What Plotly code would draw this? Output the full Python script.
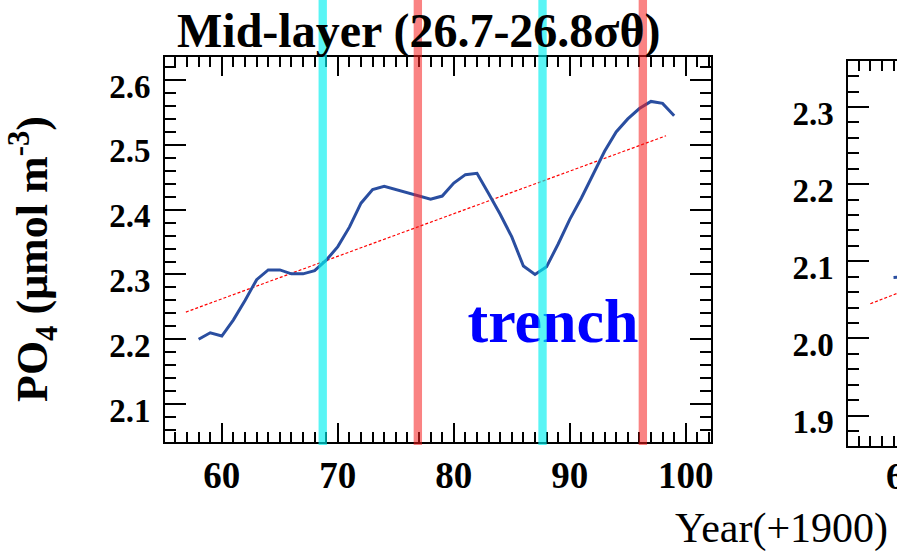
import plotly.graph_objects as go

# ---------------- data ----------------
years = list(range(58, 100))
po4_mid = [2.200, 2.210, 2.205, 2.230, 2.260, 2.292, 2.307, 2.307, 2.301, 2.301,
           2.306, 2.322, 2.343, 2.373, 2.410, 2.431, 2.436, 2.431, 2.426, 2.422,
           2.416, 2.421, 2.441, 2.454, 2.456, 2.425, 2.393, 2.358, 2.313, 2.300,
           2.312, 2.347, 2.385, 2.418, 2.455, 2.490, 2.520, 2.540, 2.556, 2.567,
           2.564, 2.545]
trend_years = [56.9, 98.3]
trend_vals = [2.242, 2.514]

# second (partially visible) panel
p2_years = [59, 60]
p2_vals = [2.079, 2.080]
p2_trend_years = [57.0, 98.0]
p2_trend_vals = [2.045, 2.283]

cyan_events = [68.7, 87.65]
red_events = [76.9, 96.3]
band_half = 0.36

x_ticks = [60, 70, 80, 90, 100]
y_ticks1 = [2.1, 2.2, 2.3, 2.4, 2.5, 2.6]
y_ticks2 = [1.9, 2.0, 2.1, 2.2, 2.3]

W, H = 897, 553
SERIF = "Liberation Serif"
BLUE = "#2a4ea0"


def px_x(p):
    return p / W


def px_y(p):
    return 1 - p / H


fig = go.Figure()

fig.add_trace(go.Scatter(x=trend_years, y=trend_vals, mode="lines",
                         line=dict(color="red", width=1.2, dash="3px,2px"),
                         xaxis="x", yaxis="y", showlegend=False, hoverinfo="skip"))
fig.add_trace(go.Scatter(x=years, y=po4_mid, mode="lines",
                         line=dict(color=BLUE, width=3),
                         xaxis="x", yaxis="y", showlegend=False))
fig.add_trace(go.Scatter(x=[88.56], y=[2.220], mode="text", text=["trench"],
                         textposition="middle center",
                         textfont=dict(family=SERIF, size=62, color="#0000ff", weight="bold"),
                         xaxis="x", yaxis="y", showlegend=False, hoverinfo="skip"))

fig.add_trace(go.Scatter(x=p2_trend_years, y=p2_trend_vals, mode="lines",
                         line=dict(color="red", width=1.2, dash="3px,2px"),
                         xaxis="x2", yaxis="y2", showlegend=False, hoverinfo="skip"))
fig.add_trace(go.Scatter(x=p2_years, y=p2_vals, mode="lines",
                         line=dict(color=BLUE, width=3),
                         xaxis="x2", yaxis="y2", showlegend=False))

shapes = []
for c in cyan_events:
    shapes.append(dict(type="rect", xref="x", yref="paper", x0=c - band_half, x1=c + band_half,
                       y0=px_y(445), y1=1, fillcolor="rgba(0,240,240,0.65)",
                       line=dict(width=0), layer="above"))
for c in red_events:
    shapes.append(dict(type="rect", xref="x", yref="paper", x0=c - band_half, x1=c + band_half,
                       y0=px_y(445), y1=1, fillcolor="rgba(245,30,30,0.55)",
                       line=dict(width=0), layer="above"))

axis_common = dict(showline=True, linewidth=2, linecolor="black", ticks="inside",
                   tickcolor="black", tickwidth=1.5, showgrid=False, zeroline=False,
                   automargin=False)

fig.update_layout(
    width=W, height=H, margin=dict(l=0, r=0, t=0, b=0),
    paper_bgcolor="white", plot_bgcolor="white", showlegend=False,
    shapes=shapes,
    xaxis=dict(**axis_common, domain=[px_x(165), px_x(710.7)], range=[55.1, 102.15],
               anchor="y", mirror="allticks", tickvals=x_ticks, ticklen=19,
               tickfont=dict(family=SERIF, size=37, color="black", weight="bold"),
               minor=dict(dtick=1, tick0=0, ticklen=10, tickwidth=1.5, tickcolor="black",
                          ticks="inside", showgrid=False)),
    yaxis=dict(**axis_common, domain=[px_y(441.7), px_y(56.7)], range=[2.042, 2.636],
               anchor="x", mirror="allticks", tickvals=y_ticks1, tickformat=".1f", ticklen=21,
               ticklabelstandoff=6, ticklabelshift=6,
               tickfont=dict(family=SERIF, size=33, color="black", weight="bold"),
               minor=dict(dtick=0.02, tick0=0, ticklen=11, tickwidth=1.5, tickcolor="black",
                          ticks="inside", showgrid=False)),
    xaxis2=dict(**axis_common, domain=[px_x(848.3), 1], range=[55.1, 59.3],
                anchor="y2", mirror="allticks", tickvals=x_ticks, ticklen=19,
                tickfont=dict(family=SERIF, size=37, color="black", weight="bold"),
                minor=dict(dtick=1, tick0=0, ticklen=10, tickwidth=1.5, tickcolor="black",
                           ticks="inside", showgrid=False)),
    yaxis2=dict(**axis_common, domain=[px_y(445.7), px_y(60.7)], range=[1.861, 2.360],
                anchor="x2", mirror=False, tickvals=y_ticks2, tickformat=".1f", ticklen=21,
                ticklabelstandoff=6, ticklabelshift=6,
                tickfont=dict(family=SERIF, size=33, color="black", weight="bold"),
                minor=dict(dtick=0.02, tick0=0, ticklen=11, tickwidth=1.5, tickcolor="black",
                           ticks="inside", showgrid=False)),
    annotations=[
        dict(text="<b>Mid-layer (26.7-26.8σθ)</b>", xref="paper", yref="paper",
             x=px_x(419), y=px_y(31), xanchor="center", yanchor="middle", showarrow=False,
             font=dict(family=SERIF, size=48, color="black")),
        dict(text="<b>PO<sub>4</sub> (μmol m<sup>-3</sup>)</b>", xref="paper", yref="paper",
             x=px_x(33), y=px_y(259), xanchor="center", yanchor="middle", textangle=-90,
             showarrow=False, font=dict(family=SERIF, size=44, color="black")),
        dict(text="Year(+1900)", xref="paper", yref="paper",
             x=px_x(673), y=px_y(528), xanchor="left", yanchor="middle", showarrow=False,
             font=dict(family=SERIF, size=42, color="black")),
        dict(text="<b>60</b>", xref="paper", yref="paper",
             x=px_x(905), y=px_y(476), xanchor="center", yanchor="middle", showarrow=False,
             font=dict(family=SERIF, size=37, color="black")),
    ],
)

fig.write_html("out.html")
